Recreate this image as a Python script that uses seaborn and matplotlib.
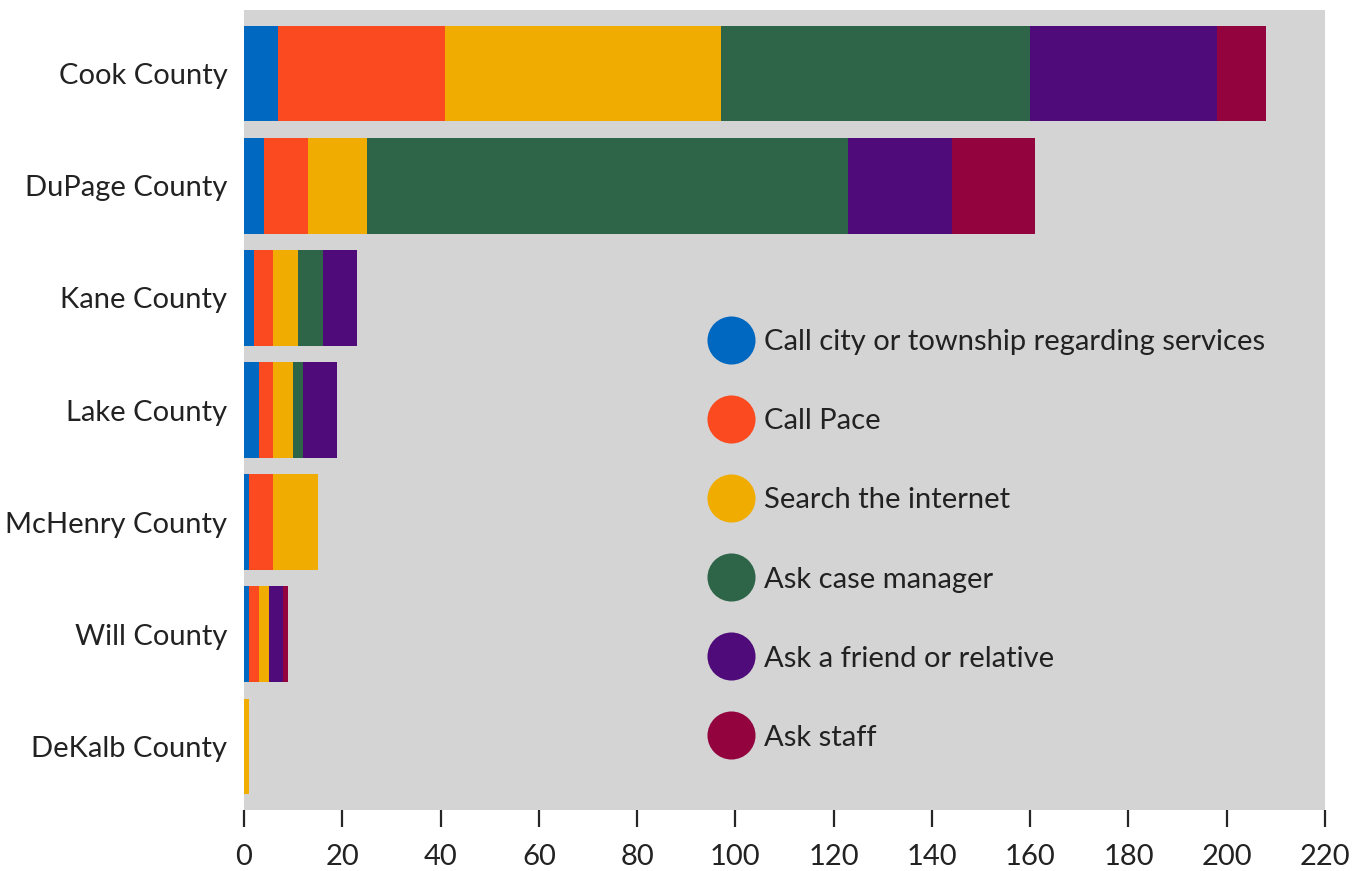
import matplotlib
matplotlib.use("Agg")
import matplotlib.pyplot as plt
from matplotlib.lines import Line2D
import numpy as np
import pandas as pd
import seaborn as sns

counties = ["Cook County", "DuPage County", "Kane County", "Lake County",
            "McHenry County", "Will County", "DeKalb County"]
sources = ["Call city or township regarding services", "Call Pace",
           "Search the internet", "Ask case manager",
           "Ask a friend or relative", "Ask staff"]

call_city = [7, 4, 2, 3, 1, 1, 0]
call_pace = [34, 9, 4, 3, 5, 2, 0]
search_internet = [56, 12, 5, 4, 9, 2, 1]
ask_case_manager = [63, 98, 5, 2, 0, 0, 0]
ask_friend = [38, 21, 7, 7, 0, 3, 0]
ask_staff = [10, 17, 0, 0, 0, 1, 0]

colors = ["#0068C0", "#FB4A1F", "#F0AC00", "#2E6447", "#4F0B7A", "#93043F"]
xticks = list(range(0, 221, 20))

sns.set_theme(style="white")
plt.rcParams["font.family"] = ["Lato", "DejaVu Sans"]

series = [call_city, call_pace, search_internet, ask_case_manager, ask_friend, ask_staff]
cum = np.cumsum(np.array(series), axis=0)

fig = plt.figure(figsize=(13.62, 8.71), dpi=100)
ax = fig.add_axes([244 / 1362, 1 - 810 / 871, (1325 - 244) / 1362, 800 / 871])
ax.set_facecolor("#D4D4D4")

# stacked bars: draw cumulative totals from the outermost segment inward
for i in range(len(series) - 1, -1, -1):
    df = pd.DataFrame({"county": counties, "value": cum[i]})
    sns.barplot(data=df, x="value", y="county", orient="h", color=colors[i],
                width=0.85, saturation=1, ax=ax, linewidth=0, errorbar=None)

ax.set_xlim(0, 220)
ax.set_ylim(6.57, -0.57)
ax.set_xticks(xticks)
ax.set_xlabel("")
ax.set_ylabel("")
for s in ax.spines.values():
    s.set_visible(False)
ax.tick_params(axis="x", bottom=True, length=12.5, width=1.6, color="#262626",
               labelsize=21, pad=12, labelcolor="#222222")
ax.tick_params(axis="y", left=False, length=0, labelsize=21, pad=12,
               labelcolor="#222222")

handles = [Line2D([], [], linestyle="none", marker="o", markersize=34.6,
                  markerfacecolor=c, markeredgewidth=0) for c in colors]
ax.legend(handles, sources, loc="center left", bbox_to_anchor=(0.4172, 0.3375),
          frameon=False, fontsize=21, labelspacing=1.82, handlelength=1.7,
          handletextpad=0.25, borderaxespad=0, labelcolor="#222222")

fig.savefig("out.png", dpi=100)
